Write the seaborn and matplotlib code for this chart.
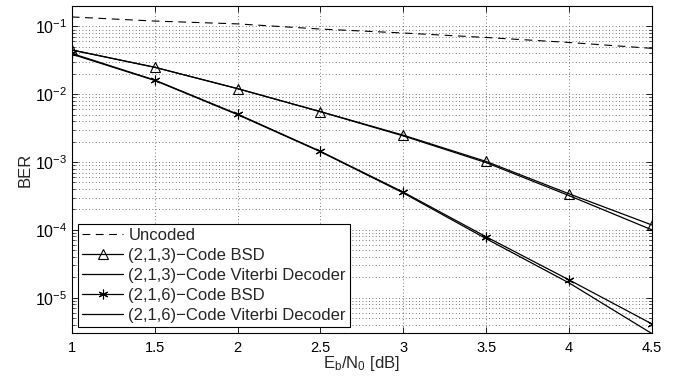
import numpy as np
import pandas as pd
import seaborn as sns
import matplotlib.pyplot as plt
from matplotlib.ticker import LogLocator, NullFormatter

sns.set_style("ticks")
plt.rcParams["font.family"] = ["Liberation Sans", "DejaVu Sans"]
plt.rcParams["font.size"] = 10
plt.rcParams["mathtext.fontset"] = "custom"
plt.rcParams["mathtext.rm"] = "Liberation Sans"
plt.rcParams["mathtext.it"] = "Liberation Sans:italic"

# Eb/N0 in dB
ebn0 = [1.0, 1.5, 2.0, 2.5, 3.0, 3.5, 4.0, 4.5]

# BER values
ber_uncoded = [0.138, 0.120, 0.109, 0.0915, 0.080, 0.0687, 0.058, 0.0475]
ber_213_bsd = [0.045, 0.025, 0.0121, 0.00555, 0.00249, 0.00102, 3.4e-4, 1.18e-4]
ber_213_vit = [0.045, 0.025, 0.0121, 0.00552, 0.00243, 0.00098, 3.2e-4, 1.0e-4]
ber_216_bsd = [0.040, 0.0162, 0.0051, 0.00144, 3.6e-4, 7.9e-5, 1.83e-5, 4.1e-6]
ber_216_vit = [0.039, 0.0160, 0.0050, 0.00142, 3.5e-4, 7.4e-5, 1.65e-5, 2.95e-6]

labels = ["Uncoded", "(2,1,3)\u2212Code BSD", "(2,1,3)\u2212Code Viterbi Decoder",
          "(2,1,6)\u2212Code BSD", "(2,1,6)\u2212Code Viterbi Decoder"]

fig, ax = plt.subplots(figsize=(6.77, 3.76), dpi=100)
fig.subplots_adjust(left=0.106, right=0.963, top=0.984, bottom=0.114)

lw = 0.9
sns.lineplot(x=ebn0, y=ber_uncoded, ax=ax, color="k", lw=0.8,
             linestyle=(0, (7, 5)), label=labels[0])
sns.lineplot(x=ebn0, y=ber_213_bsd, ax=ax, color="k", lw=lw, marker="^",
             markersize=7.5, markerfacecolor="none", markeredgecolor="k",
             markeredgewidth=0.8, label=labels[1])
sns.lineplot(x=ebn0, y=ber_213_vit, ax=ax, color="k", lw=lw, label=labels[2])
sns.lineplot(x=ebn0, y=ber_216_bsd, ax=ax, color="k", lw=lw, marker=(6, 2, 0),
             markersize=7, markeredgecolor="k", markeredgewidth=0.8,
             label=labels[3])
sns.lineplot(x=ebn0, y=ber_216_vit, ax=ax, color="k", lw=lw, label=labels[4])

ax.set_yscale("log")
ax.set_xlim(1, 4.5)
ax.set_ylim(3e-6, 0.2)
ax.set_xticks(ebn0)
ax.set_xticklabels(["1", "1.5", "2", "2.5", "3", "3.5", "4", "4.5"])
ax.yaxis.set_major_locator(LogLocator(base=10, numticks=10))
ax.yaxis.set_minor_locator(LogLocator(base=10, subs=np.arange(2, 10), numticks=20))
ax.yaxis.set_minor_formatter(NullFormatter())

ax.grid(True, which="major", axis="both", color="0.3", linestyle=(0, (1, 3)), lw=0.6)
ax.grid(True, which="minor", axis="y", color="0.3", linestyle=(0, (1, 3)), lw=0.6)

ax.tick_params(which="both", direction="in", top=True, right=True, colors="k")
ax.tick_params(which="major", length=4, width=0.6)
ax.tick_params(which="minor", length=2.5, width=0.5)
ax.tick_params(axis="x", pad=6, labelsize=10.5)
ax.tick_params(axis="y", pad=3, labelsize=11.5)
for s in ax.spines.values():
    s.set_color("k")
    s.set_linewidth(0.8)

ax.set_xlabel(r"E$_\mathregular{b}$/N$_\mathregular{0}$ [dB]", fontsize=12, labelpad=-1)
ax.set_ylabel("BER", fontsize=12, labelpad=2)

leg = ax.legend(loc="lower left", fontsize=12, handlelength=2.5, handletextpad=0.3,
                borderaxespad=0.35, fancybox=False, framealpha=1,
                edgecolor="k", labelspacing=0.3, borderpad=0.25)
leg.get_frame().set_linewidth(0.8)

plt.savefig("out.png", dpi=100)
